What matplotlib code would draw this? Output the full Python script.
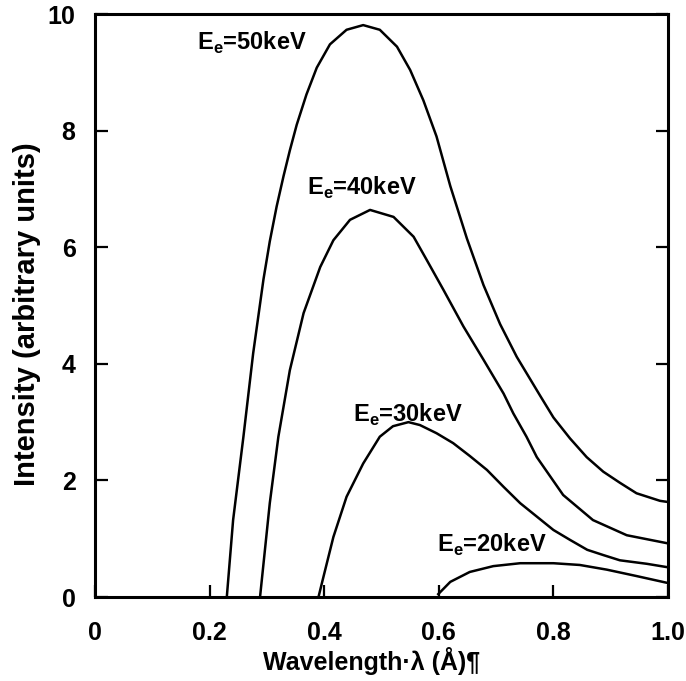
import matplotlib

matplotlib.use("Agg")

import matplotlib.pyplot as plt

# curve points (wavelength in Angstrom, intensity a.u.)
wl_50 = [0.230, 0.241, 0.259, 0.276, 0.294, 0.305, 0.317, 0.329, 0.340, 0.352,
         0.369, 0.387, 0.410, 0.439, 0.468, 0.497, 0.527, 0.550, 0.573, 0.596,
         0.620, 0.649, 0.678, 0.707, 0.736, 0.777, 0.800, 0.829, 0.858, 0.887,
         0.916, 0.945, 0.986, 1.000]
int_50 = [0.0, 1.32, 2.75, 4.18, 5.45, 6.10, 6.70, 7.22, 7.66, 8.10,
          8.62, 9.08, 9.48, 9.73, 9.81, 9.73, 9.44, 9.04, 8.52, 7.90,
          7.05, 6.15, 5.35, 4.68, 4.12, 3.45, 3.08, 2.72, 2.40, 2.15,
          1.96, 1.78, 1.65, 1.63]

wl_40 = [0.288, 0.305, 0.320, 0.340, 0.364, 0.393, 0.416, 0.445, 0.480, 0.521,
         0.556, 0.579, 0.608, 0.643, 0.678, 0.713, 0.730, 0.753, 0.771, 0.817,
         0.869, 0.928, 1.000]
int_40 = [0.0, 1.61, 2.75, 3.89, 4.87, 5.66, 6.12, 6.47, 6.64, 6.52,
          6.18, 5.78, 5.27, 4.64, 4.07, 3.49, 3.15, 2.75, 2.40, 1.75,
          1.32, 1.06, 0.92]

wl_30 = [0.390, 0.398, 0.416, 0.439, 0.468, 0.497, 0.520, 0.547, 0.567, 0.596,
         0.625, 0.654, 0.684, 0.713, 0.742, 0.771, 0.800, 0.829, 0.859, 0.887,
         0.916, 0.963, 1.000]
int_30 = [0.0, 0.32, 1.03, 1.72, 2.29, 2.75, 2.93, 3.00, 2.95, 2.81,
          2.64, 2.42, 2.18, 1.89, 1.61, 1.38, 1.15, 0.98, 0.81, 0.72,
          0.63, 0.57, 0.51]

wl_20 = [0.599, 0.620, 0.654, 0.695, 0.742, 0.800, 0.846, 0.893, 0.945, 1.000]
int_20 = [0.05, 0.26, 0.43, 0.53, 0.58, 0.58, 0.55, 0.47, 0.36, 0.24]

energies = ["50", "40", "30", "20"]
label_x = [0.178, 0.370, 0.450, 0.597]
label_y = [9.50, 7.02, 3.12, 0.89]

x_ticks = [0, 0.2, 0.4, 0.6, 0.8, 1.0]
x_tick_labels = ["0", "0.2", "0.4", "0.6", "0.8", "1.0"]
y_ticks = [0, 2, 4, 6, 8, 10]

family = "Liberation Sans"
plt.rcParams["font.family"] = family
plt.rcParams["font.weight"] = "bold"
plt.rcParams["mathtext.fontset"] = "custom"
plt.rcParams["mathtext.rm"] = family + ":bold"

fig = plt.figure(figsize=(6.86, 6.81), dpi=100)
ax = fig.add_axes([0.1385, 0.1233, 0.8353, 0.8561])

for xs, ys in [(wl_50, int_50), (wl_40, int_40), (wl_30, int_30), (wl_20, int_20)]:
    ax.plot(xs, ys, color="black", linewidth=1.8, solid_joinstyle="round")

for e, lx, ly in zip(energies, label_x, label_y):
    ax.text(lx, ly, "E$_\\mathregular{e}$=" + e + "keV", fontsize=17,
            fontweight="bold", ha="left", va="center")

ax.set_xlim(0, 1.0)
ax.set_ylim(0, 10)
ax.set_xticks(x_ticks)
ax.set_xticklabels(x_tick_labels)
ax.set_yticks(y_ticks)
ax.tick_params(axis="both", direction="in", length=9, width=1.6,
               labelsize=18)
ax.tick_params(axis="x", pad=17)
ax.tick_params(axis="y", right=True, pad=14)
for lab in ax.get_xticklabels() + ax.get_yticklabels():
    lab.set_fontweight("bold")
for spine in ax.spines.values():
    spine.set_linewidth(2.2)

ax.set_xlabel("Wavelength·λ (Å)¶", fontsize=18, fontweight="bold", labelpad=2)
ax.xaxis.label.set_x(0.483)
ax.set_ylabel("Intensity (arbitrary units)", fontsize=21, fontweight="bold",
              labelpad=5)
ax.yaxis.label.set_y(0.485)

fig.savefig("out.png", dpi=100)
